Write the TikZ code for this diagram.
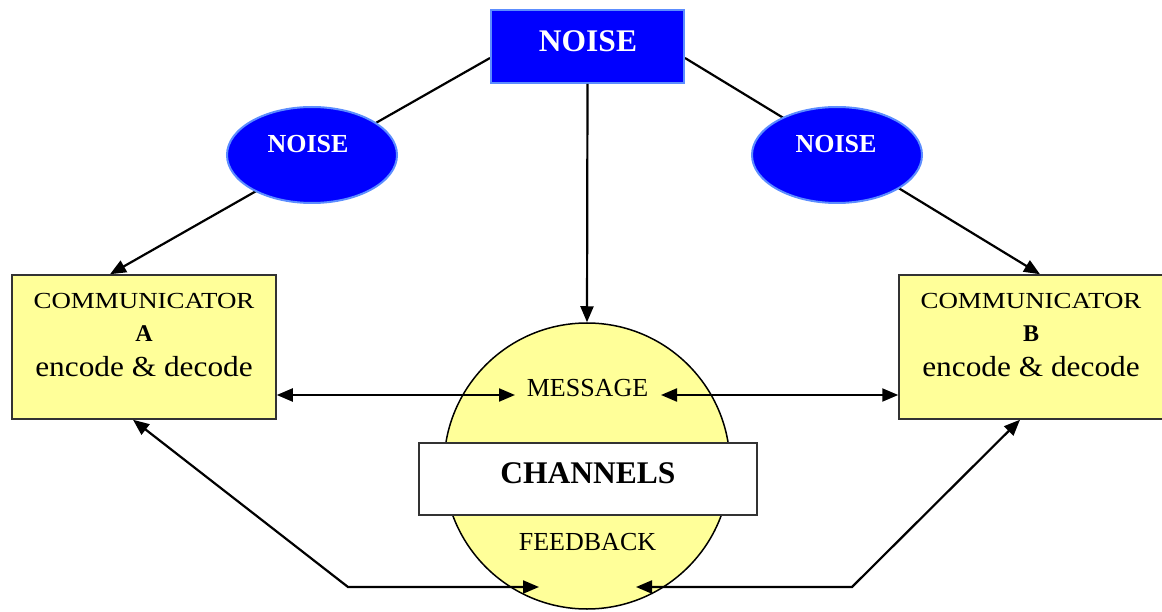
\documentclass[tikz,border=0pt]{standalone}
\usepackage{fontspec}
\setmainfont{Liberation Serif}
\usetikzlibrary{arrows.meta,shapes.geometric,backgrounds}
\definecolor{noiseblue}{HTML}{0000FF}
\definecolor{noiseedge}{HTML}{5C8DFF}
\definecolor{paleyellow}{HTML}{FFFF99}
\definecolor{boxedge}{HTML}{333333}
\begin{document}
\begin{tikzpicture}[x=1pt,y=-1pt,
  noisebox/.style={rectangle, fill=noiseblue, draw=noiseedge, line width=2pt, inner sep=0pt},
  noiseoval/.style={ellipse, fill=noiseblue, draw=noiseedge, line width=2pt, inner sep=0pt,
                    minimum width=170pt, minimum height=96pt},
  commbox/.style={rectangle, fill=paleyellow, draw=boxedge, line width=1.5pt, inner sep=0pt,
                  minimum width=264pt, minimum height=144pt},
  chanbox/.style={rectangle, fill=white, draw=boxedge, line width=1.5pt, inner sep=0pt,
                  minimum width=338pt, minimum height=72pt},
  wtext/.style={text=white, font=\fontsize{26}{30}\selectfont\bfseries, inner sep=0pt},
  btext/.style={text=black, inner sep=0pt},
  conn/.style={line width=2.2pt, draw=black},
  tip/.tip={Triangle[length=16pt,width=13pt]},
]
\useasboundingbox (0,0) rectangle (1162,612);

% channel circle and band
\node[circle, fill=paleyellow, draw=black, line width=1.5pt, minimum size=286pt, inner sep=0pt] (chan) at (587,466) {};
\node[btext, font=\fontsize{26}{30}\selectfont] (msg) at (587.5,388.5) {MESSAGE};
\node[btext, font=\fontsize{26}{30}\selectfont] (fb) at (587.5,542.5) {FEEDBACK};
\node[chanbox] (band) at (588,479) {};
\node[btext, font=\fontsize{31.5}{36}\selectfont\bfseries] (bandtext) at (588,473.5) {CHANNELS};

% noise nodes
\node[noisebox, minimum width=193pt, minimum height=73pt] (noise) at (587.5,46.5) {};
\node[wtext, font=\fontsize{31.5}{36}\selectfont\bfseries] (noisetext) at (588,41) {NOISE};
\node[noiseoval] (noiseL) at (312,155) {};
\node[wtext] (noiseLtext) at (308,144) {NOISE};
\node[noiseoval] (noiseR) at (837,155) {};
\node[wtext] (noiseRtext) at (836,144) {NOISE};

% communicators
\node[commbox] (commA) at (144,347) {};
\node[btext] (commAt1) at (144,301) {\fontsize{23}{26}\selectfont\scalebox{1.17}[1]{COMMUNICATOR}};
\node[btext, font=\fontsize{24}{28}\selectfont\bfseries] (commAt2) at (144,334) {A};
\node[btext] (commAt3) at (144,367) {\fontsize{29}{34}\selectfont\scalebox{1.08}[1]{encode \& decode}};

\node[commbox] (commB) at (1031,347) {};
\node[btext] (commBt1) at (1031,301) {\fontsize{23}{26}\selectfont\scalebox{1.17}[1]{COMMUNICATOR}};
\node[btext, font=\fontsize{24}{28}\selectfont\bfseries] (commBt2) at (1031,334) {B};
\node[btext] (commBt3) at (1031,367) {\fontsize{29}{34}\selectfont\scalebox{1.08}[1]{encode \& decode}};

% free ends
\coordinate (msgL) at (515,395);
\coordinate (msgR) at (661,395);
\coordinate (fbL) at (539,587);
\coordinate (fbR) at (636,587);
\coordinate (fbLc) at (348,587);
\coordinate (fbRc) at (852,587);

% connectors from the noise box (behind the ovals)
\begin{scope}[on background layer]
  \draw[conn, -{tip}] ([yshift=-11.5pt]noise.west) -- ([xshift=-34pt]commA.north);
  \draw[conn, -{tip}] ([yshift=-11.5pt]noise.east) -- ([xshift=9pt]commB.north);
\end{scope}
\draw[conn, -{tip}] (noise.south) -- (chan.north);

% message arrows
\draw[conn, {tip}-{tip}] ([yshift=-48pt]commA.east) -- (msgL);
\draw[conn, {tip}-{tip}] (msgR) -- ([yshift=-48pt]commB.west);

% feedback arrows
\draw[conn, {tip}-{tip}] ([xshift=-11pt]commA.south) -- (fbLc) -- (fbL);
\draw[conn, {tip}-{tip}] (fbR) -- (fbRc) -- ([xshift=-11pt]commB.south);
\end{tikzpicture}
\end{document}
